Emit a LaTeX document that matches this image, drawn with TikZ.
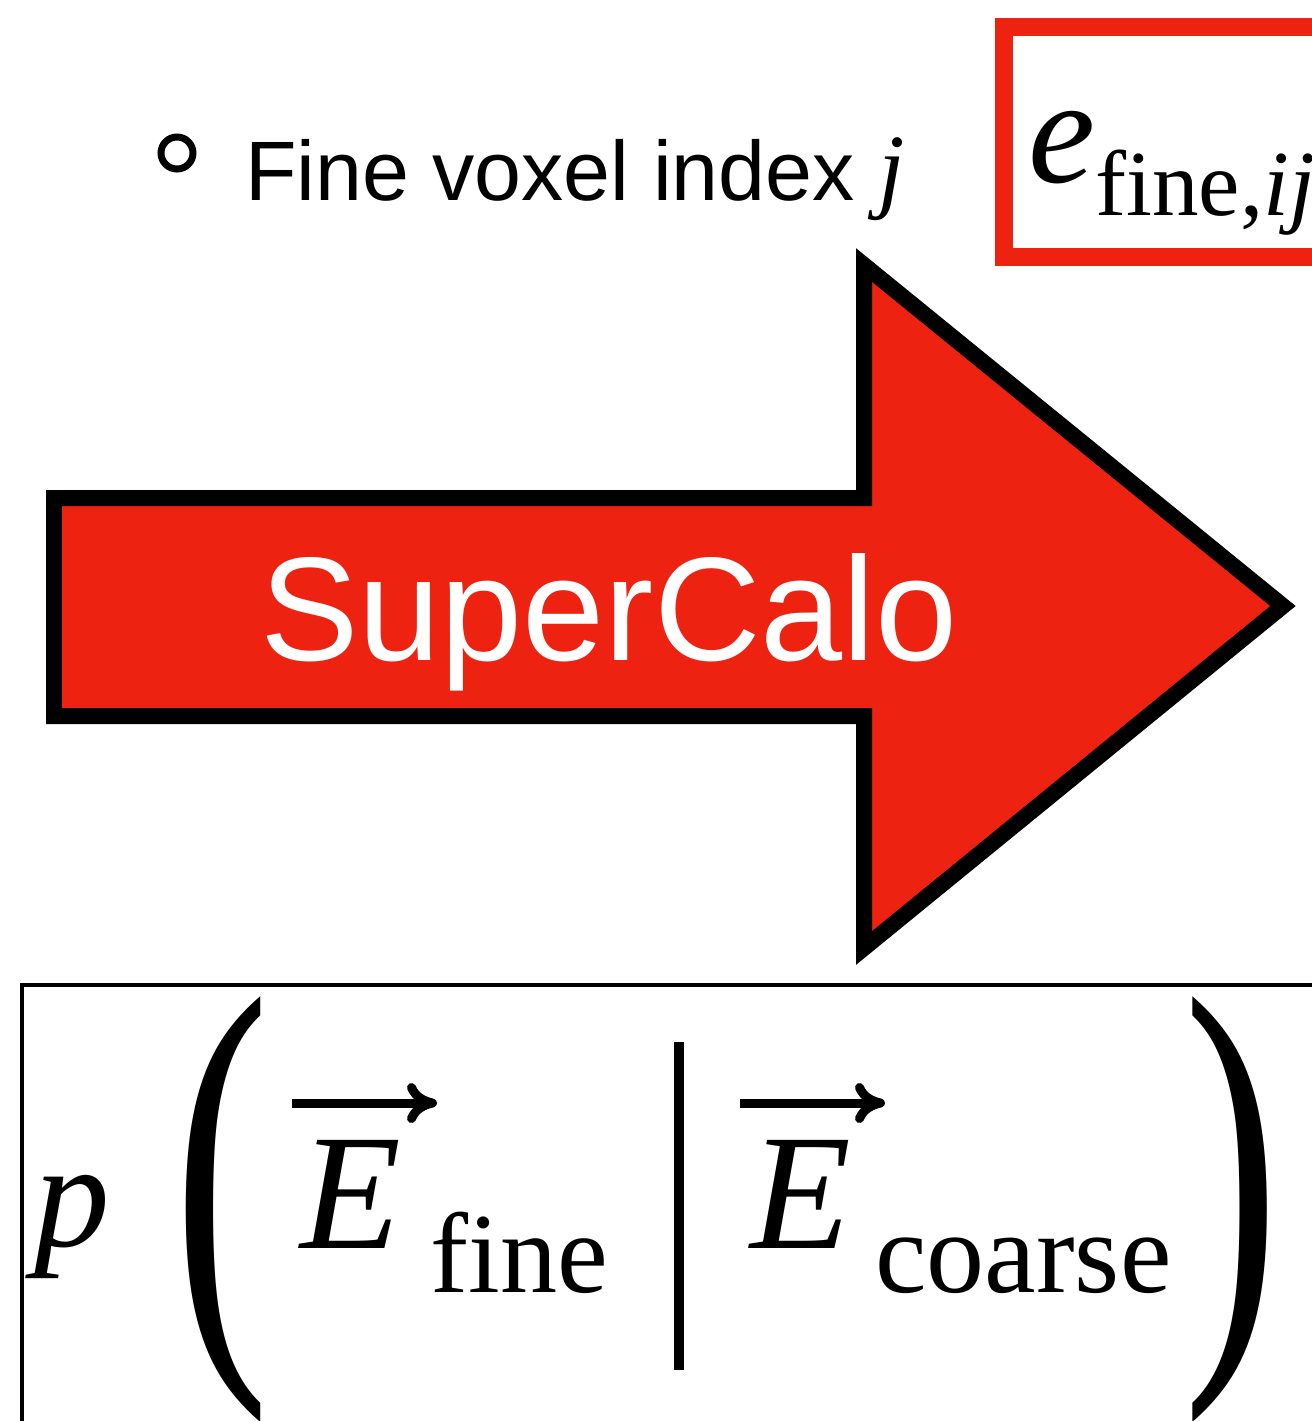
\documentclass[tikz,border=0pt]{standalone}
\usepackage{fontspec}
\usepackage{graphicx}
\usetikzlibrary{arrows.meta}
\setmainfont{Liberation Serif}
\setsansfont{Liberation Sans}
\definecolor{rougeCalo}{RGB}{237,34,16}
\begin{document}
\begin{tikzpicture}[x=0.02cm, y=-0.02cm,
  vecfleche/.style={line width=0.18cm, -{Computer Modern Rightarrow[length=0.6cm, width=0.8cm]}},
  texte/.style={anchor=base west, inner sep=0}]
% Cadre : 1312 x 1421 pixels
\useasboundingbox (0,0) rectangle (1312,1421);
\clip (0,0) rectangle (1312,1421);
\fill[white] (0,0) rectangle (1312,1421);

% Ligne du haut
\draw[line width=0.14cm] (177,153) circle [radius=16];
\node[texte] (voxel) at (245,200)
  {\sffamily\fontsize{48}{52}\selectfont Fine voxel index {\rmfamily\itshape\fontsize{54}{58}\selectfont j}};
\draw[rougeCalo, line width=0.36cm] (1004,27) rectangle (1340,257);
\node[texte] (efine) at (1028,182)
  {\fontsize{86}{90}\selectfont\itshape e\raisebox{-0.66cm}{\fontsize{53}{56}\selectfont\upshape fine,\itshape ij}};

% Grosse fleche
\draw[line width=0.32cm, fill=rougeCalo, line join=miter]
  (54,498) -- (864,498) -- (864,265) -- (1283,606) -- (864,948) -- (864,716) -- (54,716) -- cycle;
\node[anchor=base, inner sep=0, text=white] (calo) at (609,660)
  {\sffamily\fontsize{84}{90}\selectfont SuperCalo};

% Boite du bas
\draw[line width=0.08cm] (22,985) rectangle (1400,1500);
\node[texte] (p) at (34,1246)
  {\fontsize{86}{90}\selectfont\itshape p};
\node[inner sep=0] (parG) at (222,1210)
  {\fontsize{165}{170}\selectfont\scalebox{1}[1.62]{(}};
\node[texte] (Efine) at (300,1248)
  {\fontsize{94}{100}\selectfont\itshape E};
\draw[vecfleche] ([shift={(-8,-145)}]Efine.base west) -- ++(145,0);
\node[texte] (sfine) at (430,1292)
  {\fontsize{65}{70}\selectfont fine};
\coordinate (barH) at (679,1042);
\coordinate (barB) at (679,1370);
\draw[line width=0.2cm] (barH) -- (barB);
\node[texte] (Ecoarse) at (750,1248)
  {\fontsize{94}{100}\selectfont\itshape E};
\draw[vecfleche] ([shift={(-10,-145)}]Ecoarse.base west) -- ++(145,0);
\node[texte] (scoarse) at (875,1292)
  {\fontsize{66}{70}\selectfont coarse};
\node[inner sep=0] (parD) at (1232,1210)
  {\fontsize{165}{170}\selectfont\scalebox{1}[1.62]{)}};
\end{tikzpicture}
\end{document}
